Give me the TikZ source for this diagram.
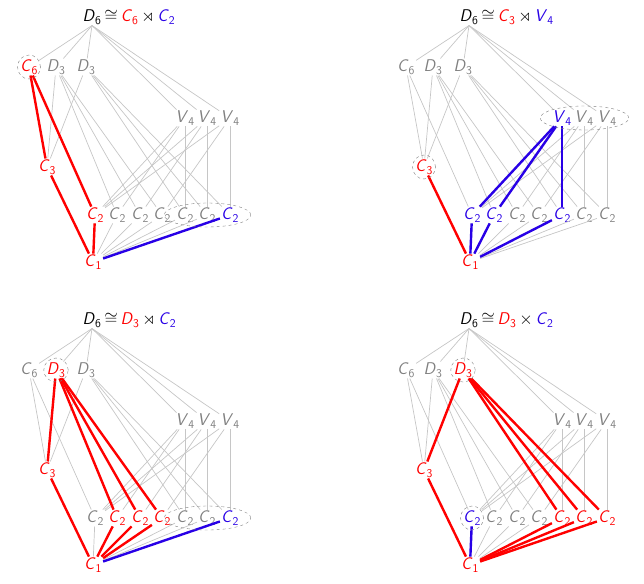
\documentclass[tikz,border=0pt]{standalone}
\usepackage{amssymb}
\usetikzlibrary{fit,shapes.geometric}
\definecolor{hblue}{RGB}{40,0,230}
\newcommand\G[2]{\textsf{\textit{#1}}\textsubscript{\textsf{#2}}}
\tikzset{
  x=1pt,y=1pt,
  lbl/.style={text=gray, inner sep=1pt, font=\fontsize{17}{19}\selectfont},
  ge/.style={gray!45, line width=0.7pt},
  hr/.style={red, line width=2.4pt},
  hb/.style={hblue, line width=2.4pt},
  dsh/.style={draw=gray, dashed, ellipse, inner sep=-2pt, minimum height=24pt},
  s-C6/.style={}, s-D3a/.style={}, s-D3b/.style={}, s-V1/.style={}, s-V2/.style={}, s-V3/.style={},
  s-C3/.style={}, s-c0/.style={}, s-c1/.style={}, s-c2/.style={}, s-c3/.style={}, s-c4/.style={},
  s-c5/.style={}, s-c6/.style={}, s-C1/.style={}
}
\newcommand\lattice[2]{%
  \node[lbl,text=black] (#1-D) at (92,-17) {\G{D}{6}};
  \node[lbl,text=black,anchor=west,inner sep=0pt] (#1-T) at ([xshift=1.5pt]#1-D.east) {$\cong$\,#2};
  \node[lbl,s-C6] (#1-C6) at (29,-67) {\G{C}{6}};
  \node[lbl,s-D3a] (#1-D3a) at (56,-67) {\G{D}{3}};
  \node[lbl,s-D3b] (#1-D3b) at (86,-67) {\G{D}{3}};
  \node[lbl,s-V1] (#1-V1) at (185,-118) {\G{V}{4}};
  \node[lbl,s-V2] (#1-V2) at (207,-118) {\G{V}{4}};
  \node[lbl,s-V3] (#1-V3) at (230,-118) {\G{V}{4}};
  \node[lbl,s-C3] (#1-C3) at (47,-167) {\G{C}{3}};
  \node[lbl,s-c0] (#1-c0) at (95,-215) {\G{C}{2}};
  \node[lbl,s-c1] (#1-c1) at (117,-215) {\G{C}{2}};
  \node[lbl,s-c2] (#1-c2) at (140,-215) {\G{C}{2}};
  \node[lbl,s-c3] (#1-c3) at (162,-215) {\G{C}{2}};
  \node[lbl,s-c4] (#1-c4) at (185,-215) {\G{C}{2}};
  \node[lbl,s-c5] (#1-c5) at (207,-215) {\G{C}{2}};
  \node[lbl,s-c6] (#1-c6) at (230,-215) {\G{C}{2}};
  \node[lbl,s-C1] (#1-C1) at (93,-262) {\G{C}{1}};
  \foreach \t in {C6,D3a,D3b,V1,V2,V3} \draw[ge] (#1-D.south) -- (#1-\t);
  \foreach \a/\b in {C6/C3,C6/c0,D3a/C3,D3a/c1,D3a/c2,D3a/c3,D3b/C3,D3b/c4,D3b/c5,D3b/c6,
    V1/c0,V1/c1,V1/c4,V2/c0,V2/c2,V2/c5,V3/c0,V3/c3,V3/c6,
    C3/C1,c0/C1,c1/C1,c2/C1,c3/C1,c4/C1,c5/C1,c6/C1}
    \draw[ge] (#1-\a) -- (#1-\b);
}
\begin{document}
\begin{tikzpicture}
\useasboundingbox (0,0) rectangle (644,-583);
% panel 1
\begin{scope}[s-C6/.style={text=red}, s-C3/.style={text=red}, s-c0/.style={text=red},
  s-C1/.style={text=red}, s-c6/.style={text=hblue}]
\lattice{a}{\textcolor{red}{\G{C}{6}}\,$\rtimes$\,\textcolor{hblue}{\G{C}{2}}}
\draw[hr] (a-C6) -- (a-C3); \draw[hr] (a-C6) -- (a-c0);
\draw[hr] (a-C3) -- (a-C1); \draw[hr] (a-c0) -- (a-C1);
\draw[hb] (a-c6) -- (a-C1);
\node[dsh, fit=(a-C6)] {};
\node[dsh, fit=(a-c4)(a-c6)] {};
\end{scope}
% panel 2
\begin{scope}[shift={(377,0)}, s-C3/.style={text=red}, s-C1/.style={text=red}, s-V1/.style={text=hblue},
  s-c0/.style={text=hblue}, s-c1/.style={text=hblue}, s-c4/.style={text=hblue}]
\lattice{b}{\textcolor{red}{\G{C}{3}}\,$\rtimes$\,\textcolor{hblue}{\G{V}{4}}}
\draw[hr] (b-C3) -- (b-C1);
\foreach \c in {c0,c1,c4} {\draw[hb] (b-V1) -- (b-\c); \draw[hb] (b-\c) -- (b-C1);}
\node[dsh, fit=(b-C3)] {};
\node[dsh, fit=(b-V1)(b-V3)] {};
\end{scope}
% panel 3
\begin{scope}[shift={(0,-303)}, s-D3a/.style={text=red}, s-C3/.style={text=red}, s-C1/.style={text=red},
  s-c1/.style={text=red}, s-c2/.style={text=red}, s-c3/.style={text=red}, s-c6/.style={text=hblue}]
\lattice{c}{\textcolor{red}{\G{D}{3}}\,$\rtimes$\,\textcolor{hblue}{\G{C}{2}}}
\draw[hr] (c-D3a) -- (c-C3); \draw[hr] (c-C3) -- (c-C1);
\foreach \c in {c1,c2,c3} {\draw[hr] (c-D3a) -- (c-\c); \draw[hr] (c-\c) -- (c-C1);}
\draw[hb] (c-c6) -- (c-C1);
\node[dsh, fit=(c-D3a)] {};
\node[dsh, fit=(c-c4)(c-c6)] {};
\end{scope}
% panel 4
\begin{scope}[shift={(377,-303)}, s-D3b/.style={text=red}, s-C3/.style={text=red}, s-C1/.style={text=red},
  s-c4/.style={text=red}, s-c5/.style={text=red}, s-c6/.style={text=red}, s-c0/.style={text=hblue}]
\lattice{d}{\textcolor{red}{\G{D}{3}}\,$\times$\,\textcolor{hblue}{\G{C}{2}}}
\draw[hr] (d-D3b) -- (d-C3); \draw[hr] (d-C3) -- (d-C1);
\foreach \c in {c4,c5,c6} {\draw[hr] (d-D3b) -- (d-\c); \draw[hr] (d-\c) -- (d-C1);}
\draw[hb] (d-c0) -- (d-C1);
\node[dsh, fit=(d-D3b)] {};
\node[dsh, fit=(d-c0)] {};
\end{scope}
\end{tikzpicture}
\end{document}
